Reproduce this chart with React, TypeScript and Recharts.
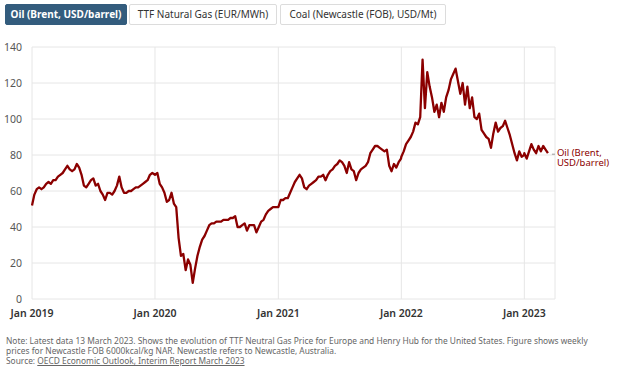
import React from "react";
import { LineChart, Line, XAxis, YAxis, CartesianGrid } from "recharts";

// Weekly Brent (dated) prices, USD/barrel
const oil2019 = [52, 58, 61, 62, 61, 62, 64, 65, 64, 66, 66, 68, 69, 70, 72, 74, 72, 71, 72, 75, 73, 69, 63, 62, 64, 66, 67, 63, 64, 60, 58, 55, 59, 59, 58, 60, 63, 68, 62, 59, 59, 60, 60, 61, 62, 62, 63, 64, 65, 66, 69, 70];
const oil2020 = [69, 70, 64, 62, 59, 54, 55, 59, 53, 51, 34, 24, 25, 16, 22, 19, 9, 17, 24, 29, 33, 35, 38, 41, 42, 42, 43, 43, 43, 44, 44, 44, 45, 45, 46, 40, 40, 41, 42, 38, 41, 41, 41, 37, 40, 43, 44, 47, 49, 50, 51, 51, 51];
const oil2021 = [51, 55, 55, 56, 56, 59, 62, 65, 67, 69, 67, 62, 61, 63, 64, 65, 66, 68, 68, 69, 66, 69, 71, 72, 74, 75, 77, 76, 74, 70, 76, 72, 71, 66, 70, 72, 73, 74, 76, 81, 83, 85, 85, 84, 83, 82, 83, 74, 71, 75, 73, 76, 78];
const oil2022 = [79, 82, 86, 88, 90, 93, 98, 97, 101, 133, 106, 126, 118, 112, 104, 108, 101, 109, 104, 112, 116, 122, 125, 128, 121, 114, 120, 108, 118, 106, 112, 101, 100, 103, 94, 92, 90, 89, 84, 92, 98, 93, 95, 96, 99, 95, 91, 86, 81, 77, 82, 79, 80];
const oil2023 = [81, 78, 82, 86, 83, 81, 85, 82, 85, 83, 81];

const years = [2019, 2020, 2021, 2022, 2023];
const yearSeries = [oil2019, oil2020, oil2021, oil2022, oil2023];

const yTicks = [0, 20, 40, 60, 80, 100, 120, 140];
const xTickYears = [2019, 2020, 2021, 2022, 2023];
const xTicks = xTickYears.map((y) => Date.UTC(y, 0, 1));
const X_MIN = Date.UTC(2019, 0, 1);
const X_MAX = Date.UTC(2023, 3, 2);

const buttons = ["Oil (Brent, USD/barrel)", "TTF Natural Gas (EUR/MWh)", "Coal (Newcastle (FOB), USD/Mt)"];
const seriesLabel = ["Oil (Brent,", "USD/barrel)"];
const noteLines = [
  "Note: Latest data 13 March 2023. Shows the evolution of TTF Neutral Gas Price for Europe and Henry Hub for the United States. Figure shows weekly",
  "prices for Newcastle FOB 6000kcal/kg NAR. Newcastle refers to Newcastle, Australia.",
];
const sourcePrefix = "Source: ";
const sourceLink = "OECD Economic Outlook, Interim Report March 2023";

const data = years.flatMap((yr, k) =>
  yearSeries[k].map((v, i) => ({ t: Date.UTC(yr, 0, 1 + 7 * i), oil: v }))
);

const LINE_COLOR = "#8B0000";
const FONT = "'Noto Sans', 'Open Sans', sans-serif";

const EndLabel = (props: any) => {
  const { x, y, index } = props;
  if (index !== data.length - 1) return null;
  return (
    <g>
      <line x1={x + 4} x2={x + 7} y1={y + 1} y2={y + 1} stroke="#999" strokeWidth={1} />
      <text x={x + 9} y={y + 3} fill={LINE_COLOR} fontSize={9.5} fontFamily={FONT}>
        {seriesLabel[0]}
      </text>
      <text x={x + 9} y={y + 13} fill={LINE_COLOR} fontSize={9.5} fontFamily={FONT}>
        {seriesLabel[1]}
      </text>
    </g>
  );
};

export default function App() {
  const btnLefts = [5, 129, 280];
  const btnWidths = [122, 148, 166];
  return (
    <div style={{ position: "absolute", left: 0, top: 0, width: 624, height: 374, background: "#fff", fontFamily: FONT, overflow: "hidden" }}>
      {buttons.map((b, i) => (
        <div
          key={b}
          style={{
            position: "absolute",
            left: btnLefts[i],
            top: 4,
            width: btnWidths[i],
            height: 21,
            boxSizing: "border-box",
            border: i === 0 ? "1px solid #335c7d" : "1px solid #dcdcdc",
            background: i === 0 ? "#335c7d" : "#fff",
            color: i === 0 ? "#fff" : "#333",
            fontWeight: i === 0 ? 700 : 400,
            fontSize: 10,
            lineHeight: "19px",
            textAlign: "center",
            borderRadius: 2,
            whiteSpace: "nowrap",
          }}
        >
          {b}
        </div>
      ))}
      <div style={{ position: "absolute", left: 0, top: 0 }}>
        <LineChart width={624} height={374} data={data} margin={{ top: 47, right: 69, bottom: 45, left: 0 }}>
          <CartesianGrid stroke="#e6e6e6" strokeWidth={1} />
          <XAxis
            dataKey="t"
            type="number"
            scale="linear"
            domain={[X_MIN, X_MAX]}
            ticks={xTicks}
            tickFormatter={(v: number) => "Jan " + new Date(v).getUTCFullYear()}
            axisLine={false}
            tickLine={false}
            height={30}
            tickMargin={5}
            tick={{ fill: "#333", fontSize: 10.5, fontWeight: 600, fontFamily: FONT }}
          />
          <YAxis
            domain={[0, 140]}
            ticks={yTicks}
            axisLine={false}
            tickLine={false}
            width={32}
            tickMargin={4}
            tick={{ fill: "#555", fontSize: 10.5, fontFamily: FONT }}
          />
          <Line
            type="linear"
            dataKey="oil"
            stroke={LINE_COLOR}
            strokeWidth={2.3}
            strokeLinejoin="round"
            dot={false}
            isAnimationActive={false}
            label={<EndLabel />}
          />
        </LineChart>
      </div>
      <div style={{ position: "absolute", left: 6, top: 336, fontSize: 8.4, lineHeight: "10px", color: "#666", whiteSpace: "nowrap" }}>
        <div>{noteLines[0]}</div>
        <div>{noteLines[1]}</div>
        <div>
          {sourcePrefix}
          <span style={{ textDecoration: "underline" }}>{sourceLink}</span>
        </div>
      </div>
    </div>
  );
}
